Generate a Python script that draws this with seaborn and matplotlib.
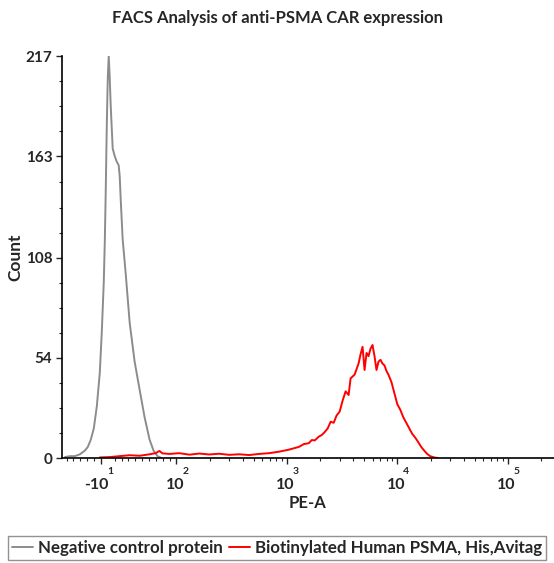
import numpy as np
import pandas as pd
import seaborn as sns
from matplotlib import pyplot as plt
from matplotlib.ticker import FixedLocator, NullFormatter

# PE-A channel values and counts
neg_x = [-62.3, -55, -47.8, -40.5, -33.3, -29, -24.6, -20.3, -15.9, -11.6, -8.7, -5.8, -4.3,
         -2.9, -1.4, 0, 1.4, 2.9, 4.3, 7.2, 10.1, 13, 15.9, 17.4, 18.8, 21.7, 26, 31.9, 39.1,
         46.3, 53.6, 60.8, 66.6, 72.4, 78.2]
neg_count = [0.5, 1, 1, 2, 4, 6, 10, 16, 28, 46, 68, 95, 117, 145, 180, 205, 217, 205, 190,
             167, 163, 160, 158, 152, 140, 118, 100, 73, 52, 37, 22, 10, 4, 1, 0]

psma_x = [-11.6, 2.9, 17.4, 31.9, 46.3, 60.8, 69.5, 75.3, 79.6, 89.8, 106, 131, 161, 198, 244,
          300, 369, 455, 560, 688, 847, 1042, 1283, 1423, 1578, 1680, 1788, 1941, 2067, 2200,
          2341, 2491, 2651, 2821, 3002, 3196, 3401, 3620, 3773, 3934, 4100, 4275, 4456, 4645,
          4842, 5047, 5261, 5484, 5717, 5959, 6212, 6475, 6750, 7036, 7334, 7645, 7970, 8307,
          8840, 9400, 10000, 10640, 11320, 12050, 12820, 13650, 14520, 15450, 16440, 17500,
          18620, 19820, 21530, 23390]
psma_count = [0.3, 0.5, 1.0, 1.5, 1.2, 2.0, 2.6, 3.8, 2.5, 2.2, 2.6, 1.8, 2.4, 1.9, 2.3,
              1.7, 2.0, 1.6, 2.2, 2.6, 3.4, 4.5, 6, 7.5, 8, 9.7, 9.5, 11.5, 12.4, 14,
              16, 19.6, 19, 23, 25, 31, 36, 34, 43, 44, 45, 48, 51, 56,
              60, 47.5, 56.7, 55, 59, 61, 55, 47.5, 52, 53, 51, 50, 47, 45,
              41, 35, 29, 26, 22, 19, 16, 13, 11, 8.6, 6, 4,
              2.2, 1, 0.3, 0]

series_names = ['Negative control protein', 'Biotinylated Human PSMA, His,Avitag']
series_colors = ['#8c8c8c', '#ff0000']

x_ticks = [-10, 100, 1000, 10000, 100000]
x_tick_base = ['-10', '10', '10', '10', '10']
x_tick_exp = ['1', '2', '3', '4', '5']
y_ticks = [0, 54, 108, 163, 217]

df = pd.concat([
    pd.DataFrame({'PE-A': neg_x, 'Count': neg_count, 'sample': series_names[0]}),
    pd.DataFrame({'PE-A': psma_x, 'Count': psma_count, 'sample': series_names[1]}),
])

sns.set_style('ticks')
plt.rcParams['font.family'] = ['Lato', 'DejaVu Sans']

fig = plt.figure(figsize=(5.54, 5.63), dpi=100)
ax = fig.add_axes([62/554, 1 - 458/563, 1 - 62/554, (458 - 56)/563])

sns.lineplot(data=df, x='PE-A', y='Count', hue='sample', palette=series_colors,
             linewidth=1.4, ax=ax, legend=False, estimator=None, sort=False)

ax.set_xscale('symlog', linthresh=100, linscale=0.56)
ax.set_xlim(-66.6, 262144)
ax.set_ylim(0, 217)

ax.xaxis.set_major_locator(FixedLocator(x_ticks))
ax.xaxis.set_major_formatter(NullFormatter())
minor_x = [-60, -50, -40, -30, -20, 10, 20, 30, 40, 50, 60, 70, 80, 90]
for k in [100, 1000, 10000, 100000]:
    minor_x += [m * k for m in range(2, 10) if m * k < 262144]
ax.xaxis.set_minor_locator(FixedLocator(minor_x))
ax.xaxis.set_minor_formatter(NullFormatter())

# flow-cytometry style labels: base number with a detached raised exponent
for t, base, ex in zip(x_ticks, x_tick_base, x_tick_exp):
    ax.annotate(base, xy=(t, 0), xycoords=('data', 'axes fraction'),
                xytext=(8, -27), textcoords='offset pixels',
                ha='right', va='center', fontsize=11.5, fontweight='bold')
    ax.annotate(ex, xy=(t, 0), xycoords=('data', 'axes fraction'),
                xytext=(9, -13), textcoords='offset pixels',
                ha='center', va='center', fontsize=7.5, fontweight='bold')

ax.set_yticks(y_ticks)
ax.set_yticklabels([str(v) for v in y_ticks])
ax.yaxis.set_minor_locator(FixedLocator([13.5, 27, 40.5, 67.5, 81, 94.5, 121.5, 135, 149,
                                         176.5, 190, 203.5]))

ax.tick_params(axis='both', which='major', length=4, width=1, labelsize=11, pad=3)
ax.tick_params(axis='both', which='minor', length=2, width=0.8)
for lab in ax.get_yticklabels():
    lab.set_fontweight('bold')

for side in ['top', 'right']:
    ax.spines[side].set_visible(False)
for side in ['left', 'bottom']:
    ax.spines[side].set_linewidth(1.2)
    ax.spines[side].set_color('black')

ax.set_xlabel('PE-A', fontsize=12, fontweight='bold')
ax.set_ylabel('Count', fontsize=12.5, fontweight='bold')
ax.xaxis.set_label_coords(0.5, -0.092)
ax.yaxis.set_label_coords(-0.078, 0.5)

fig.text(0.5, 1 - 18/563, 'FACS Analysis of anti-PSMA CAR expression',
         ha='center', va='center', fontsize=12, fontweight='bold')

handles = [plt.Line2D([], [], color=c, linewidth=1.4) for c in series_colors]
leg = fig.legend(handles, series_names, loc='center', bbox_to_anchor=(0.5, 1 - 548/563),
                 ncol=2, frameon=True, fancybox=False, edgecolor='#777777',
                 handlelength=1.2, handletextpad=0.3, columnspacing=0.4,
                 borderpad=0.25, prop={'weight': 'bold', 'size': 12.2})
leg.get_frame().set_linewidth(1.0)

fig.savefig('out.png', dpi=100)
